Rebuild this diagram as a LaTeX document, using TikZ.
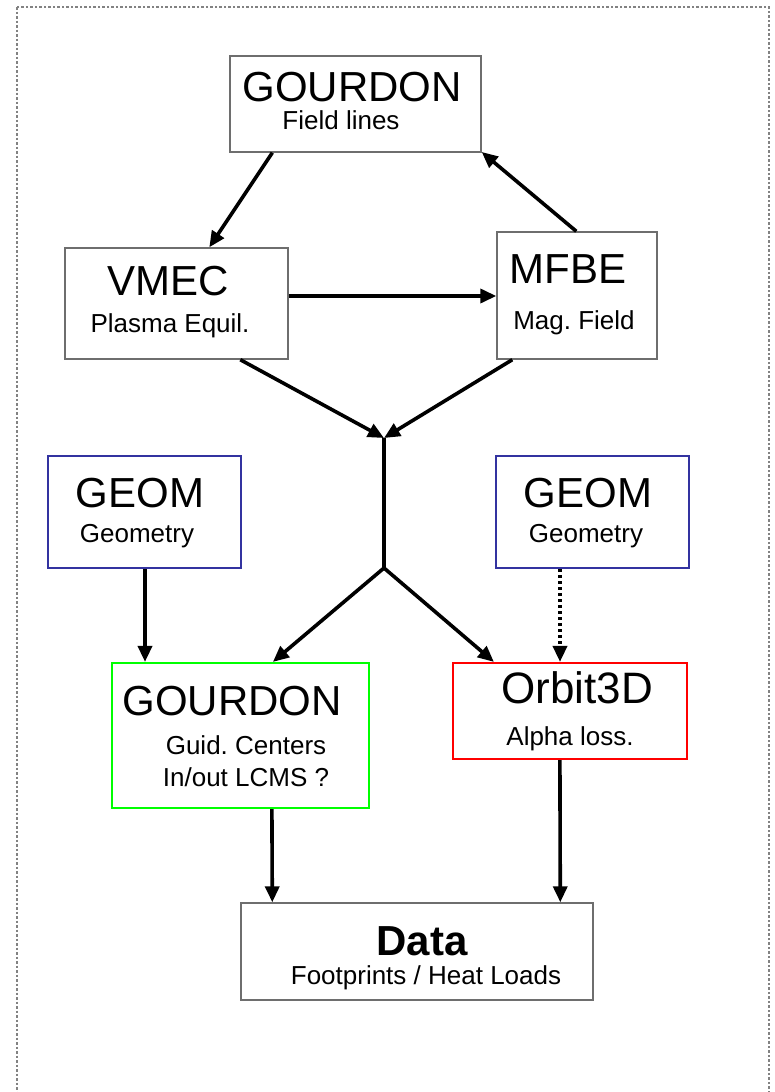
\documentclass[tikz,border=0pt]{standalone}
\usepackage{fontspec}
\setmainfont{Liberation Sans}
\frenchspacing
\usetikzlibrary{arrows.meta,calc}
\definecolor{boxgray}{RGB}{110,110,110}
\definecolor{geomblue}{RGB}{51,51,160}
\definecolor{framegray}{RGB}{130,130,130}
\tikzset{
  box/.style={draw=boxgray, line width=1.4pt, fill=white, inner sep=0pt},
  geombox/.style={draw=geomblue, line width=2.2pt, fill=white, inner sep=0pt},
  gcbox/.style={draw=green, line width=2.2pt, fill=white, inner sep=0pt},
  orbbox/.style={draw=red, line width=2.2pt, fill=white, inner sep=0pt},
  title/.style={anchor=base, inner sep=0pt, font=\fontsize{42}{42}\selectfont},
  sub/.style={anchor=base, inner sep=0pt, font=\fontsize{26}{26}\selectfont},
  link/.style={line width=3.6pt, -{Triangle[length=16pt,width=14pt]}},
  plain/.style={line width=3.6pt},
}
\begin{document}
\begin{tikzpicture}[x=1pt, y=-1pt]
  \useasboundingbox (0,0) rectangle (775,1092);
  \clip (0,0) rectangle (775,1092);
  % dotted outer frame (runs past the lower edge)
  \draw[framegray, line width=1.6pt, dash pattern=on 2.5pt off 2pt]
    (17,7) rectangle (769,1110);

  % boxes
  \node[box, minimum width=251pt, minimum height=96pt]  (gtop)  at (355.5,104)  {};
  \node[box, minimum width=223pt, minimum height=111pt] (vmec)  at (176.5,303.5) {};
  \node[box, minimum width=160pt, minimum height=127pt] (mfbe)  at (577,295.5)  {};
  \node[geombox, minimum width=193pt, minimum height=112pt] (geoml) at (144.5,512) {};
  \node[geombox, minimum width=193pt, minimum height=112pt] (geomr) at (592.5,512) {};
  \node[gcbox, minimum width=257pt, minimum height=145pt] (gc)  at (240.5,735.5) {};
  \node[orbbox, minimum width=234pt, minimum height=96pt] (orb) at (570,711)   {};
  \node[box, minimum width=352pt, minimum height=97pt]  (data)  at (417,951.5)  {};

  % labels
  \node[title] (gtopT) at (352,101) {GOURDON};
  \node[sub]   (gtopS) at (341,129) {Field lines};
  \node[title] (vmecT) at (168,295) {VMEC};
  \node[sub]   (vmecS) at (170,332) {Plasma Equil.};
  \node[title] (mfbeT) at (568,283) {MFBE};
  \node[sub]   (mfbeS) at (574,329) {Mag. Field};
  \node[title] (geomlT) at (140,507) {GEOM};
  \node[sub]   (geomlS) at (137,542) {Geometry};
  \node[title] (geomrT) at (588,507) {GEOM};
  \node[sub]   (geomrS) at (586,542) {Geometry};
  \node[title] (gcT) at (232,715) {GOURDON};
  \node[sub]   (gcS1) at (246,754) {Guid. Centers};
  \node[sub]   (gcS2) at (246,786) {In/out LCMS ?};
  \node[title, font=\fontsize{44}{44}\selectfont] (orbT) at (577,703) {Orbit3D};
  \node[sub]   (orbS) at (570,745) {Alpha loss.};
  \node[title, font=\fontsize{42}{42}\selectfont\bfseries] (dataT) at (422,955) {Data};
  \node[sub]   (dataS) at (426,984) {Footprints / Heat Loads};

  % junction points of the Y-shaped connector
  \coordinate (merge) at (384,438);
  \coordinate (split) at (384,568);

  % connectors
  \draw[link] ([xshift=43pt]gtop.south west) -- ([xshift=145pt]vmec.north west);
  \draw[link] ([xshift=80pt]mfbe.north west) -- ([yshift=-15pt]gtop.north east |- 0,137);
  \draw[link] (vmec.east |- 0,296) -- (mfbe.west |- 0,296);
  \draw[link] ([xshift=176pt]vmec.south west) -- (merge);
  \draw[link] ([xshift=16pt]mfbe.south west) -- (merge);
  \draw[plain] (merge) -- (split);
  \draw[link] (split) -- ([xshift=162pt]gc.north west);
  \draw[link] (split) -- ([xshift=42pt]orb.north west);
  \draw[link] (geoml.south) ++(0.5,0) coordinate (gl) (gl) -- (gl |- gc.north);
  \draw[link, dash pattern=on 3pt off 3pt] (geomr.south) ++(-32.5,0) coordinate (gr) (gr) -- (gr |- orb.north);
  \draw[link] ([xshift=161pt]gc.south west) -- ([xshift=32pt]data.north west);
  \draw[link] ([xshift=108pt]orb.south west) -- ([xshift=320pt]data.north west);
\end{tikzpicture}
\end{document}
